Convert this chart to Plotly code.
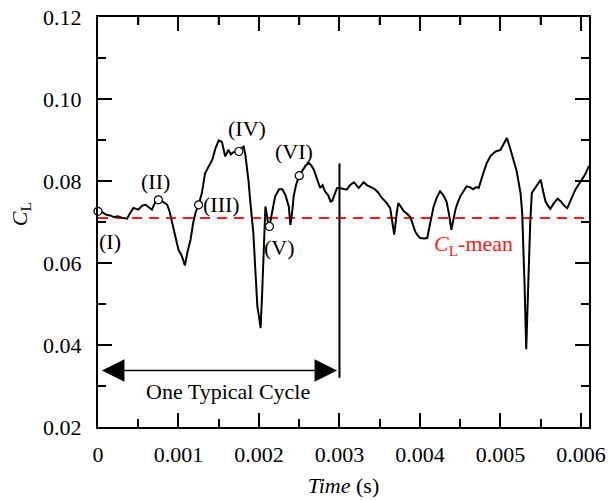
import numpy as np
import plotly.graph_objects as go

# ---- data (time in ms, converted to s) ----
time_ms = [0.000, 0.05, 0.10, 0.15, 0.20, 0.25, 0.30, 0.36, 0.40, 0.44, 0.50, 0.55, 0.59, 0.63, 0.67, 0.71,
           0.75, 0.80, 0.83, 0.86, 0.89, 0.92, 0.96, 1.00, 1.04, 1.08, 1.11, 1.15, 1.18, 1.21, 1.25, 1.29,
           1.33, 1.37, 1.42, 1.46, 1.50, 1.54, 1.56, 1.58, 1.60, 1.62, 1.65, 1.68, 1.72, 1.75, 1.78, 1.81,
           1.83, 1.85, 1.87, 1.89, 1.91, 1.93, 1.95, 1.97, 1.98, 2.00, 2.02, 2.04, 2.06, 2.08, 2.10, 2.11,
           2.13, 2.16, 2.20, 2.25, 2.29, 2.33, 2.37, 2.39, 2.41, 2.43, 2.46, 2.50, 2.54, 2.58, 2.62, 2.65,
           2.68, 2.72, 2.76, 2.79, 2.82, 2.86, 2.89, 2.91, 2.94, 2.97, 3.00, 3.04, 3.09, 3.13, 3.18, 3.21,
           3.24, 3.27, 3.30, 3.34, 3.38, 3.41, 3.44, 3.48, 3.53, 3.58, 3.63, 3.655, 3.68, 3.71, 3.73, 3.76,
           3.80, 3.84, 3.88, 3.91, 3.94, 3.97, 4.00, 4.05, 4.09, 4.13, 4.17, 4.21, 4.25, 4.29, 4.33, 4.36,
           4.39, 4.42, 4.44, 4.47, 4.50, 4.54, 4.58, 4.62, 4.66, 4.70, 4.73, 4.78, 4.83, 4.88, 4.94, 5.00,
           5.04, 5.08, 5.12, 5.16, 5.20, 5.22, 5.25, 5.27, 5.29, 5.30, 5.32, 5.335, 5.35, 5.37, 5.39, 5.42,
           5.45, 5.48, 5.50, 5.53, 5.56, 5.59, 5.62, 5.66, 5.71, 5.75, 5.79, 5.83, 5.88, 5.93, 6.00, 6.05,
           6.10]
cl = [0.0726, 0.0724, 0.0718, 0.0716, 0.0712, 0.0714, 0.0710, 0.0708, 0.0722, 0.0734, 0.0730, 0.0740, 0.0742, 0.0735, 0.0730, 0.0748,
      0.0754, 0.0750, 0.0745, 0.0742, 0.0725, 0.0698, 0.0665, 0.0632, 0.0618, 0.0594, 0.0625, 0.0657, 0.0695, 0.0722, 0.0742, 0.0770,
      0.0819, 0.0835, 0.0852, 0.0880, 0.0899, 0.0895, 0.0875, 0.0860, 0.0868, 0.0876, 0.0865, 0.0870, 0.0872, 0.0872, 0.0880, 0.0884,
      0.0865, 0.0836, 0.0800, 0.0754, 0.0720, 0.0673, 0.0600, 0.0520, 0.0494, 0.0470, 0.0441, 0.0530, 0.0632, 0.0738, 0.0715, 0.0700,
      0.0689, 0.0725, 0.0762, 0.0780, 0.0780, 0.0765, 0.0738, 0.0693, 0.0720, 0.0762, 0.0790, 0.0813, 0.0825, 0.0838, 0.0844, 0.0838,
      0.0828, 0.0805, 0.0783, 0.0790, 0.0775, 0.0765, 0.0750, 0.0752, 0.0770, 0.0783, 0.0783, 0.0781, 0.0779, 0.0790, 0.0797, 0.0790,
      0.0783, 0.0790, 0.0797, 0.0790, 0.0785, 0.0783, 0.0780, 0.0772, 0.0758, 0.0748, 0.0734, 0.0700, 0.0669, 0.0720, 0.0746, 0.0738,
      0.0726, 0.0720, 0.0712, 0.0695, 0.0677, 0.0668, 0.0661, 0.0660, 0.0661, 0.0700, 0.0738, 0.0760, 0.0775, 0.0765, 0.0750, 0.0720,
      0.0681, 0.0710, 0.0730, 0.0748, 0.0762, 0.0775, 0.0787, 0.0785, 0.0780, 0.0785, 0.0783, 0.0815, 0.0844, 0.0862, 0.0872, 0.0876,
      0.0890, 0.0905, 0.0880, 0.0852, 0.0825, 0.0803, 0.0770, 0.0722, 0.0620, 0.0543, 0.0390, 0.0500, 0.0600, 0.0700, 0.0771, 0.0780,
      0.0787, 0.0795, 0.0803, 0.0775, 0.0750, 0.0740, 0.0732, 0.0745, 0.0757, 0.0750, 0.0740, 0.0734, 0.0755, 0.0779, 0.0800, 0.0815,
      0.0837]
time_s = [t * 1e-3 for t in time_ms]

cl_mean = 0.0710

# marked states
state_labels = ["(I)", "(II)", "(III)", "(IV)", "(V)", "(VI)"]
state_t = [0.0, 0.00075, 0.00125, 0.00175, 0.00213, 0.00250]
state_v = [0.0726, 0.0754, 0.0742, 0.0872, 0.0689, 0.0813]
label_t = [0.00015, 0.00072, 0.00154, 0.00185, 0.00226, 0.00244]
label_v = [0.0653, 0.0799, 0.0742, 0.0929, 0.0637, 0.0872]

# typical cycle
cycle_start = 0.0
cycle_end = 0.003
cycle_line_top = 0.0843
cycle_line_bottom = 0.0320
cycle_arrow_v = 0.0338
cycle_text_t = 0.00162
cycle_text_v = 0.0286

mean_text_t = 0.00467
mean_text_v = 0.0644

x_range = [0, 0.0061]
y_range = [0.02, 0.12]
x_tickvals = [0, 0.001, 0.002, 0.003, 0.004, 0.005, 0.006]
x_ticktext = ["0", "0.001", "0.002", "0.003", "0.004", "0.005", "0.006"]
y_tickvals = [0.02, 0.04, 0.06, 0.08, 0.10, 0.12]
y_ticktext = ["0.02", "0.04", "0.06", "0.08", "0.10", "0.12"]
x_minor_step = 0.0005
y_minor_step = 0.01

FONT = "Liberation Serif"
RED = "#ff1a1a"

# layout geometry (pixels)
W, H = 608, 500
M_L, M_R, M_T, M_B = 98, 19, 17, 73
MINOR_LEN = 8
plot_w = W - M_L - M_R
plot_h = H - M_T - M_B

fig = go.Figure()

# mean line
fig.add_trace(go.Scatter(x=x_range, y=[cl_mean, cl_mean], mode="lines",
                         line=dict(color=RED, width=2, dash="10px,7px"),
                         hoverinfo="skip", showlegend=False))
# CL curve
fig.add_trace(go.Scatter(x=time_s, y=cl, mode="lines",
                         line=dict(color="black", width=2), showlegend=False))
# markers
fig.add_trace(go.Scatter(x=state_t, y=state_v, mode="markers",
                         marker=dict(size=8, color="white", line=dict(color="black", width=1.2)),
                         cliponaxis=False, showlegend=False))

# vertical cycle line
fig.add_shape(type="line", x0=cycle_end, x1=cycle_end, y0=cycle_line_bottom, y1=cycle_line_top,
              xref="x", yref="y", line=dict(color="black", width=2))

# mirrored minor ticks on top and right borders (majors come from mirror='allticks')
x_minor = np.arange(x_range[0] + x_minor_step, x_range[1], 2 * x_minor_step)
for v in x_minor:
    fig.add_shape(type="line", x0=v, x1=v, y0=1, y1=1 - MINOR_LEN / plot_h,
                  xref="x", yref="paper", line=dict(color="black", width=2))
y_minor = np.arange(y_range[0] + y_minor_step, y_range[1], 2 * y_minor_step)
for v in y_minor:
    fig.add_shape(type="line", x0=1, x1=1 - MINOR_LEN / plot_w, y0=v, y1=v,
                  xref="paper", yref="y", line=dict(color="black", width=2))

# double-headed arrow
fig.add_annotation(x=cycle_end - 0.00003, y=cycle_arrow_v, ax=cycle_start + 0.00003, ay=cycle_arrow_v,
                   xref="x", yref="y", axref="x", ayref="y", text="", showarrow=True,
                   arrowhead=2, arrowsize=3, arrowwidth=1.5, arrowside="end+start", arrowcolor="black",
                   startarrowhead=2, startarrowsize=3)
fig.add_annotation(x=cycle_text_t, y=cycle_text_v, text="One Typical Cycle", showarrow=False,
                   font=dict(family=FONT, size=22, color="black"))

# state labels
for txt, tx, ty in zip(state_labels, label_t, label_v):
    fig.add_annotation(x=tx, y=ty, text=txt, showarrow=False,
                       font=dict(family=FONT, size=22, color="black"))

# mean label
fig.add_annotation(x=mean_text_t, y=mean_text_v, text="<i>C</i><sub>L</sub>-mean", showarrow=False,
                   font=dict(family=FONT, size=22, color=RED))

# y title
fig.add_annotation(x=-0.158, y=0.52, xref="paper", yref="paper", xanchor="center", yanchor="middle",
                   text="<i>C</i><sub>L</sub>",
                   showarrow=False, textangle=-90, font=dict(family=FONT, size=22, color="#000000"))

axis_common = dict(showline=True, linecolor="black", linewidth=2, mirror="allticks",
                   ticks="inside", ticklen=14, tickwidth=2, tickcolor="black",
                   showgrid=False, zeroline=False, automargin=False,
                   tickfont=dict(family=FONT, size=22, color="black"))

fig.update_xaxes(range=x_range, tickvals=x_tickvals, ticktext=x_ticktext,
                 minor=dict(ticks="inside", ticklen=MINOR_LEN, tickwidth=2, tickcolor="black",
                            dtick=x_minor_step, tick0=0),
                 title=dict(text="<i>Time</i> (s)", font=dict(family=FONT, size=22, color="black"), standoff=11),
                 ticklabelstandoff=7,
                 **axis_common)
fig.update_yaxes(range=y_range, tickvals=y_tickvals, ticktext=y_ticktext,
                 minor=dict(ticks="inside", ticklen=MINOR_LEN, tickwidth=2, tickcolor="black",
                            dtick=y_minor_step, tick0=0),
                 ticklabelstandoff=10,
                 **axis_common)

fig.update_layout(width=W, height=H, margin=dict(l=M_L, r=M_R, t=M_T, b=M_B),
                  plot_bgcolor="white", paper_bgcolor="white", showlegend=False)

fig.write_html("out.html")
